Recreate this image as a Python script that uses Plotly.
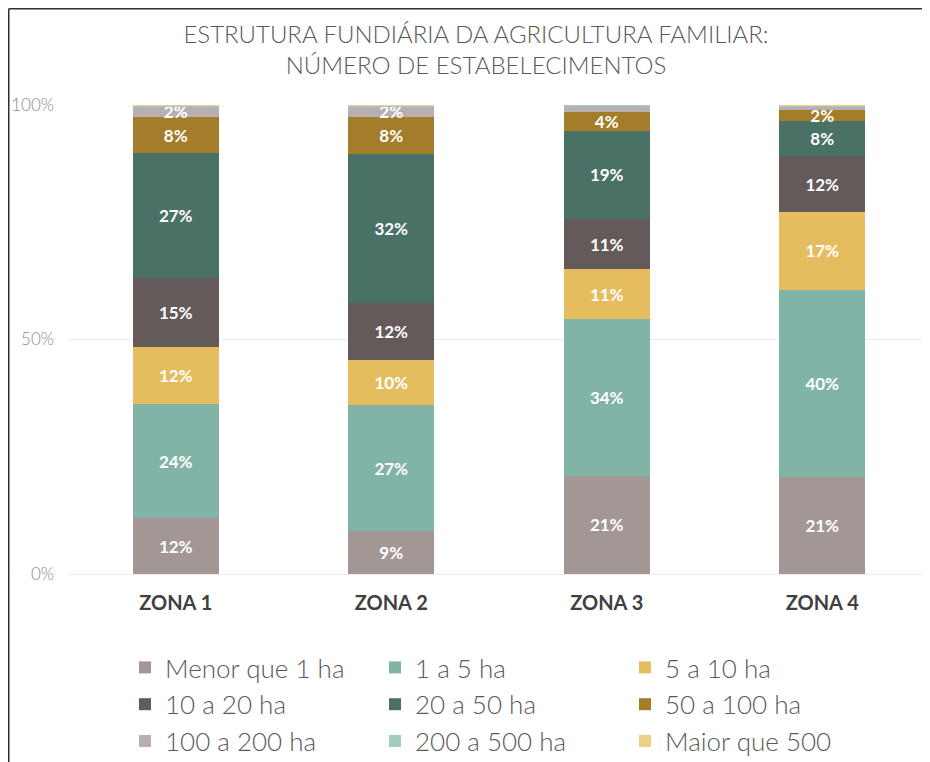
import plotly.graph_objects as go

zones = ["ZONA 1", "ZONA 2", "ZONA 3", "ZONA 4"]

series_names = ["Menor que 1 ha", "1 a 5 ha", "5 a 10 ha", "10 a 20 ha", "20 a 50 ha",
                "50 a 100 ha", "100 a 200 ha", "200 a 500 ha", "Maior que 500"]

menor_1 = [11.9, 9.2, 20.9, 20.7]
ha_1_5 = [24.3, 26.8, 33.5, 39.9]
ha_5_10 = [12.2, 9.6, 10.6, 16.6]
ha_10_20 = [14.7, 12.2, 10.7, 11.9]
ha_20_50 = [26.7, 31.7, 18.8, 7.5]
ha_50_100 = [7.6, 7.9, 4.0, 2.4]
ha_100_200 = [2.3, 2.3, 1.4, 0.6]
ha_200_500 = [0.2, 0.2, 0.1, 0.2]
maior_500 = [0.1, 0.1, 0.0, 0.2]

series_values = [menor_1, ha_1_5, ha_5_10, ha_10_20, ha_20_50,
                 ha_50_100, ha_100_200, ha_200_500, maior_500]

colors = ["#A29795", "#82B3A7", "#E5BD5F", "#655A5A", "#4A7166",
          "#A47D2A", "#B8B0B0", "#A2CCC2", "#EFCF87"]

y_ticks = [0, 50, 100]
y_tick_labels = ["0%", "50%", "100%"]

fig = go.Figure()
for name, vals, col in zip(series_names, series_values, colors):
    txt = [f"{v:.0f}%" if v >= 1.5 else "" for v in vals]
    fig.add_trace(go.Bar(
        x=zones, y=vals, name=name, marker=dict(color=col, line=dict(width=0)),
        text=txt, textposition="inside", insidetextanchor="middle", textangle=0,
        textfont=dict(family="Lato", size=17, color="white", weight="bold"),
        hoverinfo="skip",
    ))

# the page body adds an 8px offset, so the figure is 8px smaller and shifted
W, H = 922, 754
ml, mr, mt, mb = 60, 0, 97, 188
pw, ph = W - ml - mr, H - mt - mb

def px_x(px):
    return (px - ml) / pw

def px_y(py):
    return (H - mb - py) / ph

border = dict(color="#2F2F2F", width=1.5)

fig.update_layout(
    width=W, height=H,
    barmode="stack", bargap=0.6,
    margin=dict(l=ml, r=mr, t=mt, b=mb, autoexpand=False),
    paper_bgcolor="white", plot_bgcolor="rgba(0,0,0,0)",
    uniformtext=dict(mode="show", minsize=17),
    title=dict(
        text="ESTRUTURA FUNDIÁRIA DA AGRICULTURA FAMILIAR:<br>NÚMERO DE ESTABELECIMENTOS",
        x=468 / W, xanchor="center", xref="container",
        y=1 - 35 / H, yanchor="middle", yref="container",
        font=dict(family="Lato", size=24, color="#595959", weight=300),
    ),
    xaxis=dict(
        showgrid=False, showline=False, ticks="",
        tickfont=dict(family="Lato", size=20, color="#404040", weight="bold"),
        ticklabelstandoff=15,
    ),
    yaxis=dict(
        range=[0, 100], tickvals=y_ticks, ticktext=y_tick_labels,
        showgrid=True, gridcolor="#EDEDED", gridwidth=1,
        zeroline=True, zerolinecolor="#EDEDED", zerolinewidth=1,
        showline=False, ticks="",
        tickfont=dict(family="Lato", size=17, color="#8C8C8C", weight=300),
        ticklabelstandoff=13,
    ),
    legend=dict(
        orientation="h", traceorder="normal",
        x=px_x(117), xanchor="left", y=px_y(636), yanchor="top",
        font=dict(family="Lato", size=26, color="#595959", weight=300),
        entrywidth=205, entrywidthmode="pixels",
        itemsizing="constant", itemwidth=30,
        bgcolor="rgba(0,0,0,0)",
    ),
    shapes=[
        dict(type="line", xref="paper", yref="paper",
             x0=px_x(0.75), x1=px_x(W), y0=px_y(0.75), y1=px_y(0.75),
             line=border, layer="above"),
        dict(type="line", xref="paper", yref="paper",
             x0=px_x(0.75), x1=px_x(0.75), y0=px_y(0.75), y1=px_y(H),
             line=border, layer="above"),
    ],
)

fig.write_html("out.html")
